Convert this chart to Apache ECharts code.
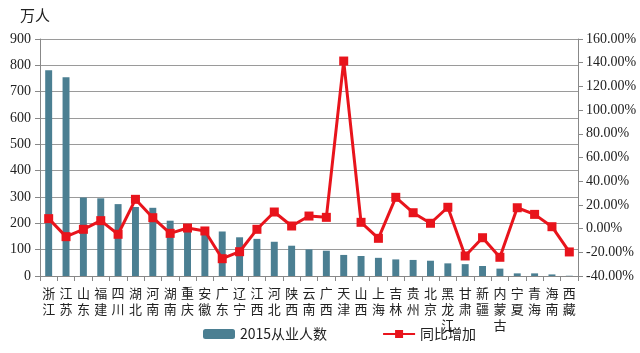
<!DOCTYPE html>
<html>
<head>
<meta charset="utf-8">
<script src="https://cdn.jsdelivr.net/npm/echarts@6/dist/echarts.min.js"></script>
<style>
  html, body { margin: 0; padding: 0; background: #fff; }
  #main { width: 640px; height: 353px; }
</style>
</head>
<body>
<div id="main"></div>
<script>
// 省份
var provinces = ['浙江', '江苏', '山东', '福建', '四川', '湖北', '河南', '湖南', '重庆', '安徽',
  '广东', '辽宁', '江西', '河北', '陕西', '云南', '广西', '天津', '山西', '上海',
  '吉林', '贵州', '北京', '黑龙江', '甘肃', '新疆', '内蒙古', '宁夏', '青海', '海南', '西藏'];
// 2015从业人数（万人）
var workers = [781, 755, 298, 295, 273, 262, 259, 210, 188, 180,
  169, 147, 141, 130, 115, 101, 96, 80, 76, 69,
  63, 61, 58, 48, 45, 38, 28, 10, 10, 6, 1];
// 同比增加（%）
var growth = [8.4, -6.8, -0.6, 6.7, -4.8, 24.7, 9.2, -4.0, 0.5, -2.0,
  -25.4, -19.5, -0.6, 14.0, 2.2, 10.6, 9.5, 141.4, 5.3, -8.2,
  26.4, 13.4, 4.5, 18.0, -23.1, -7.7, -24.2, 17.6, 12.0, 1.6, -19.7];

var numFont = '"Liberation Serif", "DejaVu Serif", serif';
var cjkFont = '"Noto Sans CJK SC", sans-serif';

var myChart = echarts.init(document.getElementById('main'));

var option = {
  animation: false,
  backgroundColor: '#fff',
  grid: { left: 40, right: 62, top: 39, bottom: 77, containLabel: false },
  graphic: [{
    type: 'text', left: 20, top: 8,
    style: { text: '万人', font: '15px ' + cjkFont, fill: '#222' }
  }],
  legend: {
    bottom: 7,
    left: 198,
    itemGap: 55,
    itemWidth: 32,
    itemHeight: 10,
    textStyle: { fontFamily: cjkFont, fontSize: 14, color: '#222' },
    data: ['2015从业人数', '同比增加']
  },
  xAxis: {
    type: 'category',
    data: provinces,
    axisLine: { lineStyle: { color: '#888' } },
    axisTick: { show: true, interval: 0, length: 5, lineStyle: { color: '#888' } },
    axisLabel: {
      interval: 0,
      margin: 9,
      fontFamily: cjkFont,
      fontSize: 13,
      lineHeight: 16,
      color: '#222',
      formatter: function (v) { return v.split('').join('\n'); }
    }
  },
  yAxis: [{
    type: 'value',
    min: 0, max: 900, interval: 100,
    axisLine: { show: true, lineStyle: { color: '#888' } },
    axisTick: { show: true, inside: false, length: 5, lineStyle: { color: '#888' } },
    axisLabel: { fontFamily: numFont, fontSize: 14, color: '#222', margin: 9 },
    splitLine: { lineStyle: { color: '#9a9a9a', width: 1 } }
  }, {
    type: 'value',
    min: -40, max: 160, interval: 20,
    position: 'right',
    axisLine: { show: true, lineStyle: { color: '#888' } },
    axisTick: { show: true, length: 5, lineStyle: { color: '#888' } },
    axisLabel: {
      fontFamily: numFont, fontSize: 14, color: '#222', margin: 8,
      formatter: function (v) { return v.toFixed(2) + '%'; }
    },
    splitLine: { show: false }
  }],
  series: [{
    name: '2015从业人数',
    type: 'bar',
    data: workers,
    barWidth: '40%',
    itemStyle: { color: '#4b7f92' }
  }, {
    name: '同比增加',
    type: 'line',
    yAxisIndex: 1,
    data: growth,
    symbol: 'rect',
    symbolSize: 9,
    lineStyle: { color: '#e8141c', width: 3 },
    itemStyle: { color: '#e8141c' }
  }]
};
myChart.setOption(option);
</script>
</body>
</html>
